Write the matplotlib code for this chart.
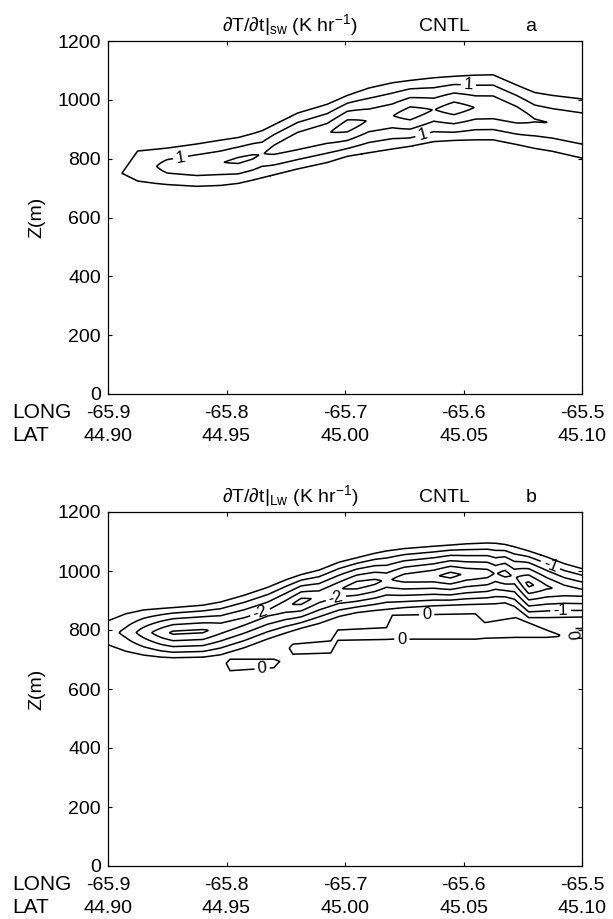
import numpy as np
import matplotlib
matplotlib.use("Agg")
import matplotlib.pyplot as plt
from matplotlib.transforms import blended_transform_factory

plt.rcParams["font.family"] = ["Liberation Sans", "DejaVu Sans"]
plt.rcParams["mathtext.fontset"] = "custom"
plt.rcParams["mathtext.rm"] = "Liberation Sans"
plt.rcParams["mathtext.it"] = "Liberation Sans:italic"
plt.rcParams["contour.negative_linestyle"] = "solid"

# axis labels
lon_ticks = [-65.9, -65.8, -65.7, -65.6, -65.5]
long_labels = ["-65.9", "-65.8", "-65.7", "-65.6", "-65.5"]
lat_labels = ["44.90", "44.95", "45.00", "45.05", "45.10"]
z_ticks = [0, 200, 400, 600, 800, 1000, 1200]

# panel a: shortwave heating layer, read column by column
# (outer contour top / bottom in m, peak value in K/hr)
sw_lon = [-65.900, -65.888, -65.875, -65.860, -65.850, -65.825, -65.805, -65.790,
          -65.778, -65.770, -65.760, -65.740, -65.715, -65.698, -65.680, -65.660,
          -65.645, -65.625, -65.608, -65.590, -65.575, -65.555, -65.540, -65.525,
          -65.500]
sw_top = [745, 752, 826, 832, 836, 850, 863, 872, 885, 895, 915, 955, 985, 1015,
          1040, 1058, 1066, 1075, 1080, 1084, 1085, 1050, 1025, 1015, 1003]
sw_bot = [757, 750, 724, 716, 712, 706, 709, 716, 727, 735, 745, 765, 787, 808,
          820, 833, 842, 858, 862, 864, 864, 848, 835, 825, 802]
sw_peak = [0.6, 0.7, 0.85, 0.97, 1.25, 1.42, 1.47, 1.62, 1.58, 1.46, 1.68, 1.88, 1.94,
           2.3, 1.96, 1.98, 2.3, 1.98, 2.3, 1.98, 1.96, 1.82, 1.54, 1.49, 1.49]
sw_levels = [0.5, 1.5, 2.0]
sw_label_level = 1.0
sw_label_lon = [-65.839, -65.596, -65.635]
sw_label_z = [809, 1040, 891]

# panel b: longwave cooling layer (outer contour top / bottom, minimum value)
lw_lon = [-65.900, -65.885, -65.870, -65.855, -65.845, -65.820, -65.805, -65.785,
          -65.765, -65.750, -65.737, -65.722, -65.705, -65.690, -65.675, -65.665,
          -65.650, -65.625, -65.611, -65.598, -65.580, -65.573, -65.565, -65.557,
          -65.545, -65.530, -65.515, -65.500]
lw_top = [831, 855, 868, 873, 876, 884, 895, 918, 945, 970, 988, 1003, 1030, 1045,
          1060, 1068, 1076, 1084, 1088, 1092, 1095, 1094, 1090, 1082, 1068, 1048,
          1025, 1008]
lw_bot = [750, 728, 715, 708, 706, 708, 716, 740, 770, 790, 806, 822, 846, 859,
          866, 870, 876, 882, 884, 886, 888, 889, 892, 880, 842, 842, 843, 844]
lw_core = [-0.75, -1.15, -1.75, -2.3, -2.6, -2.6, -2.3, -2.2, -2.15, -2.35, -2.7,
           -2.35, -2.45, -2.75, -2.65, -2.4, -2.75, -2.9, -3.2, -2.9, -2.75, -2.45,
           -2.7, -2.4, -3.15, -2.6, -2.3, -2.2]
lw_levels = [-3.0, -2.5, -1.5, -0.5]
lw_label_levels = [-2.0, -1.0]
lw_label_lon = [[-65.772, -65.706], [-65.527, -65.518]]
lw_label_z = [[865, 887], [1017, 870]]

# panel b: warming band below cloud base (zero contour top / bottom)
band_lon = [-65.900, -65.802, -65.797, -65.760, -65.756, -65.752, -65.748, -65.744,
            -65.712, -65.706, -65.665, -65.660, -65.590, -65.582, -65.556, -65.530,
            -65.520, -65.515, -65.510, -65.506, -65.500]
band_top = [600, 680, 701, 701, 695, 690, 735, 752, 763, 800, 808, 850, 855, 825,
            842, 800, 785, 770, 775, 805, 805]
band_bot = [640, 700, 662, 672, 690, 700, 745, 718, 722, 765, 768, 769, 769, 772,
            775, 775, 778, 790, 790, 772, 772]
zero_label_lon = [-65.770, -65.652, -65.631, -65.513]
zero_label_z = [673, 769, 842, 775]

lon_grid = np.linspace(-65.9, -65.5, 801)
z_grid = np.arange(0, 1201, 2.0)
LON, Z = np.meshgrid(lon_grid, z_grid)


def layer_field(lon_n, top_n, bot_n, core_n, edge, power=1.1):
    top = np.interp(lon_grid, lon_n, top_n)
    bot = np.interp(lon_grid, lon_n, bot_n)
    core = np.interp(lon_grid, lon_n, core_n)
    zc = (top + bot) / 2
    d0 = (top - bot) / 2
    frac = 1 - (np.abs(Z - zc) / np.maximum(d0, 1e-6)) ** power
    field = edge + (core - edge) * frac
    outside = edge - np.sign(core - edge) * 1.0
    return np.where(d0 > 0, field, outside)


def band_field(lon_n, top_n, bot_n):
    top = np.interp(lon_grid, lon_n, top_n)
    bot = np.interp(lon_grid, lon_n, bot_n)
    return (top - bot) / 2 - np.abs(Z - (top + bot) / 2)


def labelled_contour(ax, field, level, xs, zs, text=None):
    cs = ax.contour(LON, Z, field, levels=[level], colors="k", linewidths=1.1)
    fmt = (lambda v: text) if text is not None else (lambda v: f"{v:g}")
    ax.clabel(cs, manual=list(zip(xs, zs)), fmt=fmt, fontsize=12,
              inline=True, inline_spacing=3)


def style_axes(fig, ax, title, letter):
    ax.set_xlim(-65.9, -65.5)
    ax.set_ylim(0, 1200)
    ax.set_xticks(lon_ticks)
    ax.set_yticks(z_ticks)
    ax.tick_params(direction="in", top=True, right=True, length=3, width=0.8,
                   labelbottom=False, labelsize=14, pad=5)
    for sp in ax.spines.values():
        sp.set_linewidth(0.9)
    ax.set_ylabel("Z(m)", fontsize=14)
    ax.yaxis.set_label_coords(-0.133, 0.5)

    xform = ax.get_xaxis_transform()
    for lon, s1, s2 in zip(lon_ticks, long_labels, lat_labels):
        ax.text(lon, -0.068, s1, transform=xform, ha="center", va="baseline", fontsize=14)
        ax.text(lon, -0.134, s2, transform=xform, ha="center", va="baseline", fontsize=14)
    left = blended_transform_factory(fig.transFigure, ax.transAxes)
    ax.text(12 / 613, -0.068, "LONG", transform=left, ha="left", va="baseline", fontsize=15)
    ax.text(12 / 613, -0.134, "LAT", transform=left, ha="left", va="baseline", fontsize=15)

    ax.text(0.384, 1.028, title, transform=ax.transAxes, ha="center", va="baseline", fontsize=14)
    ax.text(0.709, 1.028, "CNTL", transform=ax.transAxes, ha="center", va="baseline", fontsize=14)
    ax.text(0.892, 1.028, letter, transform=ax.transAxes, ha="center", va="baseline", fontsize=14)


fig = plt.figure(figsize=(6.13, 9.19), dpi=100)
ax_a = fig.add_axes([108 / 613, 1 - 394 / 919, 474 / 613, 353 / 919])
ax_b = fig.add_axes([108 / 613, 1 - 866 / 919, 474 / 613, 354 / 919])

# panel a
sw = layer_field(sw_lon, sw_top, sw_bot, sw_peak, 0.5)
ax_a.contour(LON, Z, sw, levels=sw_levels, colors="k", linewidths=1.1)
labelled_contour(ax_a, sw, sw_label_level, sw_label_lon, sw_label_z)
style_axes(fig, ax_a, r"∂T/∂t$|_{\mathrm{sw}}$ (K hr$^{-1}$)", "a")

# panel b
lw = layer_field(lw_lon, lw_top, lw_bot, lw_core, -0.5)
ax_b.contour(LON, Z, lw, levels=lw_levels, colors="k", linewidths=1.1)
for level, xs, zs in zip(lw_label_levels, lw_label_lon, lw_label_z):
    labelled_contour(ax_b, lw, level, xs, zs)
band = band_field(band_lon, band_top, band_bot)
labelled_contour(ax_b, band, 0.0, zero_label_lon, zero_label_z, text="0")
style_axes(fig, ax_b, r"∂T/∂t$|_{\mathrm{Lw}}$ (K hr$^{-1}$)", "b")

fig.savefig("out.png", dpi=100)
